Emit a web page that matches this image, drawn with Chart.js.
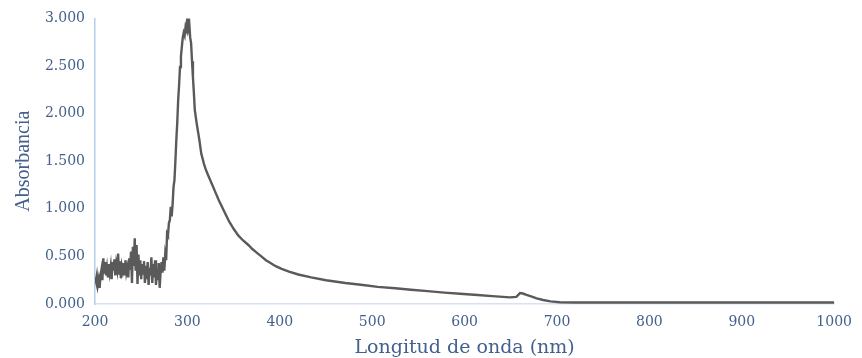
<!DOCTYPE html>
<html>
<head>
<meta charset="utf-8">
<script src="https://cdn.jsdelivr.net/npm/chart.js@4/dist/chart.umd.min.js"></script>
<style>
  html, body { margin: 0; padding: 0; background: #ffffff; }
  #wrap { position: relative; width: 862px; height: 358px; }
</style>
</head>
<body>
<div id="wrap"><canvas id="c"></canvas></div>
<script>
// Wavelength (nm)
const wavelengths = [
  200,201,202,203,204,205,206,207,208,209,210,211,212,213,214,215,216,217,218,219,
  220,221,222,223,224,225,226,227,228,229,230,231,232,233,234,235,236,237,238,239,
  240,241,242,243,244,245,246,247,248,249,250,251,252,253,254,255,256,257,258,259,
  260,261,262,263,264,265,266,267,268,269,270,271,272,273,274,275,276,277,
  278,279,280,281,282,283,284,285,286,287,288,289,290,291,292,293,294,295,296,297,
  298,299,300,301,302,303,304,305,306,307,308,310,313,315,318,320,323,327,330,334,
  337,340,345,350,355,360,366,370,375,380,385,390,395,402,410,420,434,450,471,490,
  506,525,542,560,578,595,614,630,649,656,660,663,667,672,678,685,693,703,720,750,
  775,800,850,900,950,1000
];
// Absorbance
const absorbance = [
  0.28,0.24,0.30,0.20,0.26,0.17,0.30,0.36,0.25,0.48,0.32,0.44,0.30,0.38,0.28,0.42,0.33,0.40,0.26,0.44,
  0.35,0.47,0.30,0.42,0.36,0.53,0.32,0.45,0.27,0.40,0.35,0.43,0.30,0.46,0.33,0.38,0.28,0.48,0.36,0.55,
  0.22,0.60,0.40,0.69,0.35,0.62,0.21,0.52,0.30,0.46,0.26,0.42,0.32,0.45,0.22,0.40,0.26,0.44,0.20,0.38,
  0.30,0.49,0.22,0.42,0.28,0.46,0.20,0.36,0.25,0.43,0.17,0.34,0.44,0.33,0.49,0.35,0.52,0.46,
  0.74,0.72,0.85,0.88,1.02,0.92,1.05,1.23,1.30,1.50,1.72,1.90,2.14,2.30,2.49,2.60,2.70,2.80,2.85,2.82,
  2.91,2.88,3.03,2.90,2.95,2.80,2.74,2.55,2.38,2.22,2.04,1.90,1.72,1.58,1.47,1.41,1.34,1.25,1.18,1.09,
  1.03,0.97,0.87,0.79,0.72,0.67,0.62,0.58,0.54,0.50,0.46,0.43,0.40,0.37,0.34,0.31,0.28,0.25,0.22,0.20,
  0.18,0.165,0.15,0.135,0.12,0.108,0.095,0.083,0.07,0.075,0.115,0.11,0.095,0.08,0.06,0.042,0.028,0.018,0.016,0.015,
  0.015,0.015,0.015,0.015,0.015,0.015
];
const xTicks = [200,300,400,500,600,700,800,900,1000];
const yTicks = [0,0.5,1,1.5,2,2.5,3];
const xTitle = 'Longitud de onda (nm)';
const yTitle = 'Absorbancia';

const points = wavelengths.map((w, i) => ({ x: w, y: absorbance[i] }));
const textColor = '#44608c';

new Chart(document.getElementById('c'), {
  type: 'line',
  data: {
    datasets: [{
      data: points,
      borderColor: '#5a5a5a',
      borderWidth: 2.4,
      pointRadius: 0,
      tension: 0,
      fill: false
    }]
  },
  options: {
    responsive: true,
    maintainAspectRatio: false,
    animation: false,
    layout: { padding: { top: 18, right: 22, bottom: 0, left: 0 } },
    plugins: { legend: { display: false }, tooltip: { enabled: false } },
    scales: {
      x: {
        type: 'linear',
        min: 200, max: 1000,
        afterBuildTicks: (s) => { s.ticks = xTicks.map(v => ({ value: v })); },
        afterFit: (s) => { s.height = 54; },
        grid: { display: false, drawTicks: false },
        border: { display: true, color: '#d6e2f3', width: 1.5 },
        ticks: { color: textColor, font: { family: 'DejaVu Serif', size: 14 }, padding: 10, maxRotation: 0, autoSkip: false,
                 callback: (v) => String(v) },
        title: { display: true, text: xTitle, color: textColor, font: { family: 'DejaVu Serif', size: 19, lineHeight: 1 }, padding: { top: 0, bottom: 0 } }
      },
      y: {
        min: 0, max: 3,
        afterBuildTicks: (s) => { s.ticks = yTicks.map(v => ({ value: v })); },
        afterFit: (s) => { s.width = 95; },
        grid: { display: false, drawTicks: false },
        border: { display: true, color: '#b4cdea', width: 1.5 },
        ticks: { color: textColor, font: { family: 'DejaVu Serif', size: 14 }, padding: 10,
                 callback: (v) => Number(v).toFixed(3) },
        title: { display: true, text: yTitle, color: textColor, font: { family: 'Liberation Serif', size: 20 }, padding: { top: 12, bottom: 0 } }
      }
    }
  }
});
</script>
</body>
</html>
